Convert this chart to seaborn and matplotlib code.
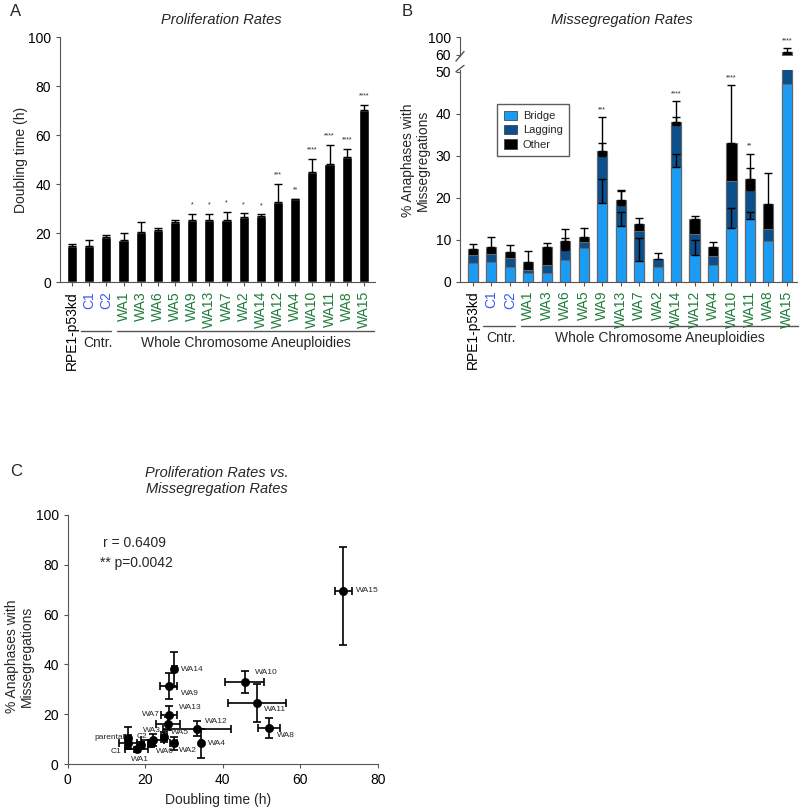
import numpy as np
import pandas as pd
import matplotlib
matplotlib.use("Agg")
import matplotlib.pyplot as plt
import seaborn as sns
from matplotlib.patches import Patch

# ---- data ----
lines = ["RPE1-p53kd", "C1", "C2", "WA1", "WA3", "WA6", "WA5", "WA9", "WA13",
         "WA7", "WA2", "WA14", "WA12", "WA4", "WA10", "WA11", "WA8", "WA15"]

# A: doubling time (h)
doubling = [14.8, 14.9, 18.2, 17.1, 20.6, 21.4, 24.4, 25.4, 25.5,
            25.3, 26.7, 27.0, 32.6, 33.8, 45.0, 48.1, 51.2, 70.1]
doubling_err = [0.8, 2.3, 1.0, 2.9, 3.8, 0.6, 0.8, 2.4, 2.2,
                3.2, 1.3, 0.6, 7.4, 0.0, 5.2, 7.8, 3.0, 2.4]
sig_a = ["", "", "", "", "", "", "", "*", "*", "*", "*", "*", "***", "**",
         "****", "****", "****", "****"]

# B: % anaphases with missegregations (stacked segments)
bridge = [4.4, 4.8, 3.6, 2.0, 2.0, 5.2, 8.1, 18.7, 13.3,
          5.0, 3.5, 27.2, 6.3, 3.9, 12.7, 14.9, 9.7, 47.0]
lagging = [1.9, 1.8, 2.1, 0.9, 2.0, 2.4, 1.4, 11.2, 5.0,
           7.1, 1.9, 10.2, 5.0, 2.1, 11.3, 6.9, 2.8, 13.0]
other = [1.5, 1.7, 1.3, 1.9, 4.2, 2.2, 1.1, 1.1, 1.2,
         1.7, 0.0, 0.6, 3.6, 2.3, 9.0, 2.6, 6.1, 7.5]
bridge_err = [0, 0, 0, 0, 0, 0, 0, 5.8, 3.2, 5.5, 0, 3.3, 3.7, 0, 4.9, 1.6, 0, 0]
lagging_err = [0, 0, 0, 0, 0, 2.9, 0, 3.1, 3.2, 0, 0, 1.9, 0, 0, 0, 5.2, 0, 0]
other_err = [1.2, 2.4, 1.7, 2.6, 1.0, 2.7, 2.3, 8.2, 2.3,
             1.3, 1.5, 5.0, 0.7, 1.2, 13.8, 6.1, 7.2, 7.5]
sig_b = ["", "", "", "", "", "", "", "***", "", "", "", "****", "", "",
         "****", "**", "", "****"]

# C: doubling time vs missegregation
c_names = ["parental", "C1", "C2", "WA1", "WA3", "WA6", "WA5", "WA9", "WA13",
           "WA7", "WA2", "WA14", "WA12", "WA4", "WA10", "WA11", "WA8", "WA15"]
c_x = [15.5, 15.5, 18.8, 17.8, 21.9, 21.4, 24.9, 26.0, 26.1,
       25.8, 27.3, 27.5, 33.3, 34.4, 45.6, 48.8, 51.9, 71.0]
c_xerr = [0.8, 2.3, 1.0, 2.9, 3.0, 0.6, 0.8, 2.2, 2.0,
          3.1, 1.0, 0.6, 8.8, 0.3, 5.1, 7.6, 2.9, 2.2]
c_y = [10.6, 8.3, 7.6, 6.0, 9.6, 8.3, 11.0, 31.3, 19.6,
       16.2, 8.3, 38.0, 14.1, 8.3, 33.1, 24.4, 14.6, 69.6]
c_yerr_lo = [4.4, 2.0, 1.2, 1.0, 2.4, 1.5, 2.0, 5.2, 3.6,
             2.5, 2.5, 7.0, 3.0, 5.9, 4.4, 7.7, 4.0, 22.0]
c_yerr_hi = [4.4, 2.0, 1.2, 1.0, 2.4, 1.5, 2.0, 5.2, 3.6,
             2.5, 2.5, 7.0, 3.0, 5.9, 4.4, 7.7, 4.0, 17.7]

# label offsets for panel C (pixels), alignment
c_label_pos = {
    "parental": (-3, 0, "right"), "C1": (-6, -8, "right"), "C2": (1, 9, "center"),
    "WA1": (3, -10, "center"), "WA3": (-1, 10, "center"), "WA6": (5, -8, "left"),
    "WA5": (7, 4, "left"), "WA9": (12, -7, "left"), "WA13": (10, 8, "left"),
    "WA7": (-8, 9, "right"), "WA2": (5, -7, "left"), "WA14": (7, 0, "left"),
    "WA12": (8, 7, "left"), "WA4": (7, 0, "left"), "WA10": (10, 9, "left"),
    "WA11": (7, -6, "left"), "WA8": (8, -8, "left"), "WA15": (13, 0, "left"),
}

# ---- style ----
sns.set_style("ticks")
plt.rcParams['font.family'] = ['Liberation Sans', 'DejaVu Sans']
plt.rcParams['axes.edgecolor'] = '#555555'
plt.rcParams['xtick.color'] = '#555555'
plt.rcParams['ytick.color'] = '#555555'
plt.rcParams['xtick.labelcolor'] = 'black'
plt.rcParams['ytick.labelcolor'] = 'black'

blue_lbl = "#3a5cf0"
green_lbl = "#1e7b3a"
c_bridge = "#1a9cf5"
c_lag = "#0b4f8c"
c_other = "black"

W, H = 800, 810
fig = plt.figure(figsize=(W / 100, H / 100), dpi=100)


def px_axes(left, top, right, bottom):
    return fig.add_axes([left / W, 1 - bottom / H, (right - left) / W, (bottom - top) / H])


def label_colors(ax):
    for t in ax.get_xticklabels():
        name = t.get_text()
        if name.startswith("C"):
            t.set_color(blue_lbl)
        elif name.startswith("WA"):
            t.set_color(green_lbl)
        else:
            t.set_color("black")


def group_lines(ax, yline, ytext):
    tr = ax.get_xaxis_transform()
    ax.plot([0.55, 2.3], [yline, yline], color="#555555", lw=1, transform=tr, clip_on=False)
    ax.plot([2.6, 17.6], [yline, yline], color="#555555", lw=1, transform=tr, clip_on=False)
    ax.text(1.5, ytext, "Cntr.", transform=tr, ha="center", va="center", fontsize=10)
    ax.text(10.1, ytext, "Whole Chromosome Aneuploidies", transform=tr,
            ha="center", va="center", fontsize=10)


# ================= Panel A =================
dfa = pd.DataFrame({"line": lines, "doubling": doubling, "err": doubling_err})
axA = px_axes(60, 37.3, 375, 282)
sns.barplot(data=dfa, x="line", y="doubling", order=lines, color="black",
            width=0.6, errorbar=None, ax=axA, saturation=1)
xs = np.arange(len(lines))
axA.errorbar(xs, doubling, yerr=[np.zeros(len(lines)), doubling_err], fmt="none",
             ecolor="black", elinewidth=1, capsize=3, capthick=1)
for i, s in enumerate(sig_a):
    if s:
        axA.annotate(s, (i, doubling[i] + doubling_err[i]), xytext=(0, 4),
                     textcoords="offset points", ha="center", va="bottom", fontsize=5)
axA.set_ylim(0, 100)
axA.set_xlim(-0.7, 17.65)
axA.set_yticks([0, 20, 40, 60, 80, 100])
axA.tick_params(axis="y", labelsize=10, length=3)
axA.tick_params(axis="x", labelsize=10, length=3, rotation=90)
axA.set_xlabel("")
axA.set_ylabel("Doubling time (h)", fontsize=10)
axA.yaxis.set_label_coords(-0.103, 0.5)
sns.despine(ax=axA)
label_colors(axA)
group_lines(axA, -0.2015, -0.25)
fig.text(221 / W, 1 - 20 / H, "Proliferation Rates", ha="center", va="center",
         fontsize=10.5, style="italic")
fig.text(10 / W, 1 - 11 / H, "A", ha="left", va="center", fontsize=12)

# ================= Panel B =================
dfb = pd.DataFrame({"line": lines, "bridge": bridge, "lagging": lagging, "other": other})
dfb["lag_top"] = dfb["bridge"] + dfb["lagging"]
dfb["total"] = dfb["lag_top"] + dfb["other"]

axB = px_axes(460, 69.6, 797, 281.7)
axBt = px_axes(460, 37.3, 797, 56.3)

for ax in (axB, axBt):
    for col, colr in (("total", c_other), ("lag_top", c_lag), ("bridge", c_bridge)):
        sns.barplot(data=dfb, x="line", y=col, order=lines, color=colr, width=0.55,
                    errorbar=None, ax=ax, saturation=1, edgecolor="#666666", linewidth=0.8)
    for col, err in (("bridge", bridge_err), ("lag_top", lagging_err), ("total", other_err)):
        err = np.array(err)
        m = err > 0
        ax.errorbar(xs[m], dfb[col].values[m], yerr=[np.zeros(m.sum()), err[m]], fmt="none",
                    ecolor="black", elinewidth=1, capsize=3, capthick=1)
    for i, s in enumerate(sig_b):
        if s:
            ax.annotate(s, (i, dfb["total"][i] + other_err[i]), xytext=(0, 3),
                        textcoords="offset points", ha="center", va="bottom", fontsize=5)
    ax.set_xlim(-0.7, 17.55)
    ax.set_xlabel("")
    ax.set_ylabel("")
    ax.tick_params(axis="y", labelsize=10, length=3)

axB.set_ylim(0, 50.5)
axB.set_yticks([0, 10, 20, 30, 40, 50])
axB.tick_params(axis="x", labelsize=10, length=3, rotation=90)
axB.spines["top"].set_visible(False)
axB.spines["right"].set_visible(False)
label_colors(axB)
group_lines(axB, -0.207, -0.265)
axB.set_ylabel("% Anaphases with\nMissegregations", fontsize=10, linespacing=1.1)
axB.yaxis.set_label_coords(-0.088, 0.574)

axBt.set_ylim(57, 100)
axBt.set_yticks([60, 100])
axBt.set_xticks([])
for sp in ("top", "right", "bottom"):
    axBt.spines[sp].set_visible(False)

# break marks
kw = dict(color="#555555", lw=1, clip_on=False)
axBt.plot([-0.012, 0.012], [-0.25, 0.25], transform=axBt.transAxes, **kw)
axB.plot([-0.012, 0.012], [0.99, 1.02], transform=axB.transAxes, **kw)

# legend
handles = [Patch(facecolor=c_bridge, edgecolor="#333333", lw=0.5, label="Bridge"),
           Patch(facecolor=c_lag, edgecolor="#333333", lw=0.5, label="Lagging"),
           Patch(facecolor=c_other, edgecolor="#333333", lw=0.5, label="Other")]
leg = axB.legend(handles=handles, loc="upper left", bbox_to_anchor=(0.11, 0.838),
                 fontsize=8, frameon=True, fancybox=False, handlelength=1.2,
                 handleheight=0.9, handletextpad=0.5, borderpad=0.6, labelspacing=0.35,
                 borderaxespad=0)
leg.get_frame().set_edgecolor("#333333")
leg.get_frame().set_linewidth(1)

fig.text(622 / W, 1 - 20 / H, "Missegregation Rates", ha="center", va="center",
         fontsize=10.5, style="italic")
fig.text(402 / W, 1 - 11 / H, "B", ha="left", va="center", fontsize=12)

# ================= Panel C =================
dfc = pd.DataFrame({"name": c_names, "x": c_x, "y": c_y})
axC = px_axes(67.7, 515, 378, 764)
axC.errorbar(c_x, c_y, xerr=c_xerr, yerr=[c_yerr_lo, c_yerr_hi], fmt="none",
             ecolor="black", elinewidth=1.2, capsize=3, capthick=1.2, zorder=2)
sns.scatterplot(data=dfc, x="x", y="y", color="black", s=35, edgecolor="black",
                ax=axC, zorder=3)
for n, x, y in zip(c_names, c_x, c_y):
    dx, dy, ha = c_label_pos[n]
    axC.annotate(n, (x, y), xytext=(dx, dy), textcoords="offset pixels",
                 ha=ha, va="center", fontsize=6)
axC.set_xlim(0, 80)
axC.set_ylim(0, 100)
axC.set_xticks([0, 20, 40, 60, 80])
axC.set_yticks([0, 20, 40, 60, 80, 100])
axC.tick_params(labelsize=10, length=3)
axC.set_xlabel("Doubling time (h)", fontsize=10)
axC.set_ylabel("% Anaphases with\nMissegregations", fontsize=10, linespacing=1.1)
axC.xaxis.set_label_coords(0.484, -0.118)
axC.yaxis.set_label_coords(-0.108, 0.431)
sns.despine(ax=axC)
axC.text(9.2, 88.9, "r = 0.6409", fontsize=10, ha="left", va="center")
axC.text(8.4, 80.6, "** p=0.0042", fontsize=10, ha="left", va="center")

fig.text(217 / W, 1 - 481 / H, "Proliferation Rates vs.\nMissegregation Rates",
         ha="center", va="center", fontsize=10.5, style="italic", linespacing=1.2)
fig.text(10 / W, 1 - 471 / H, "C", ha="left", va="center", fontsize=12)

fig.savefig("out.png", dpi=100)
